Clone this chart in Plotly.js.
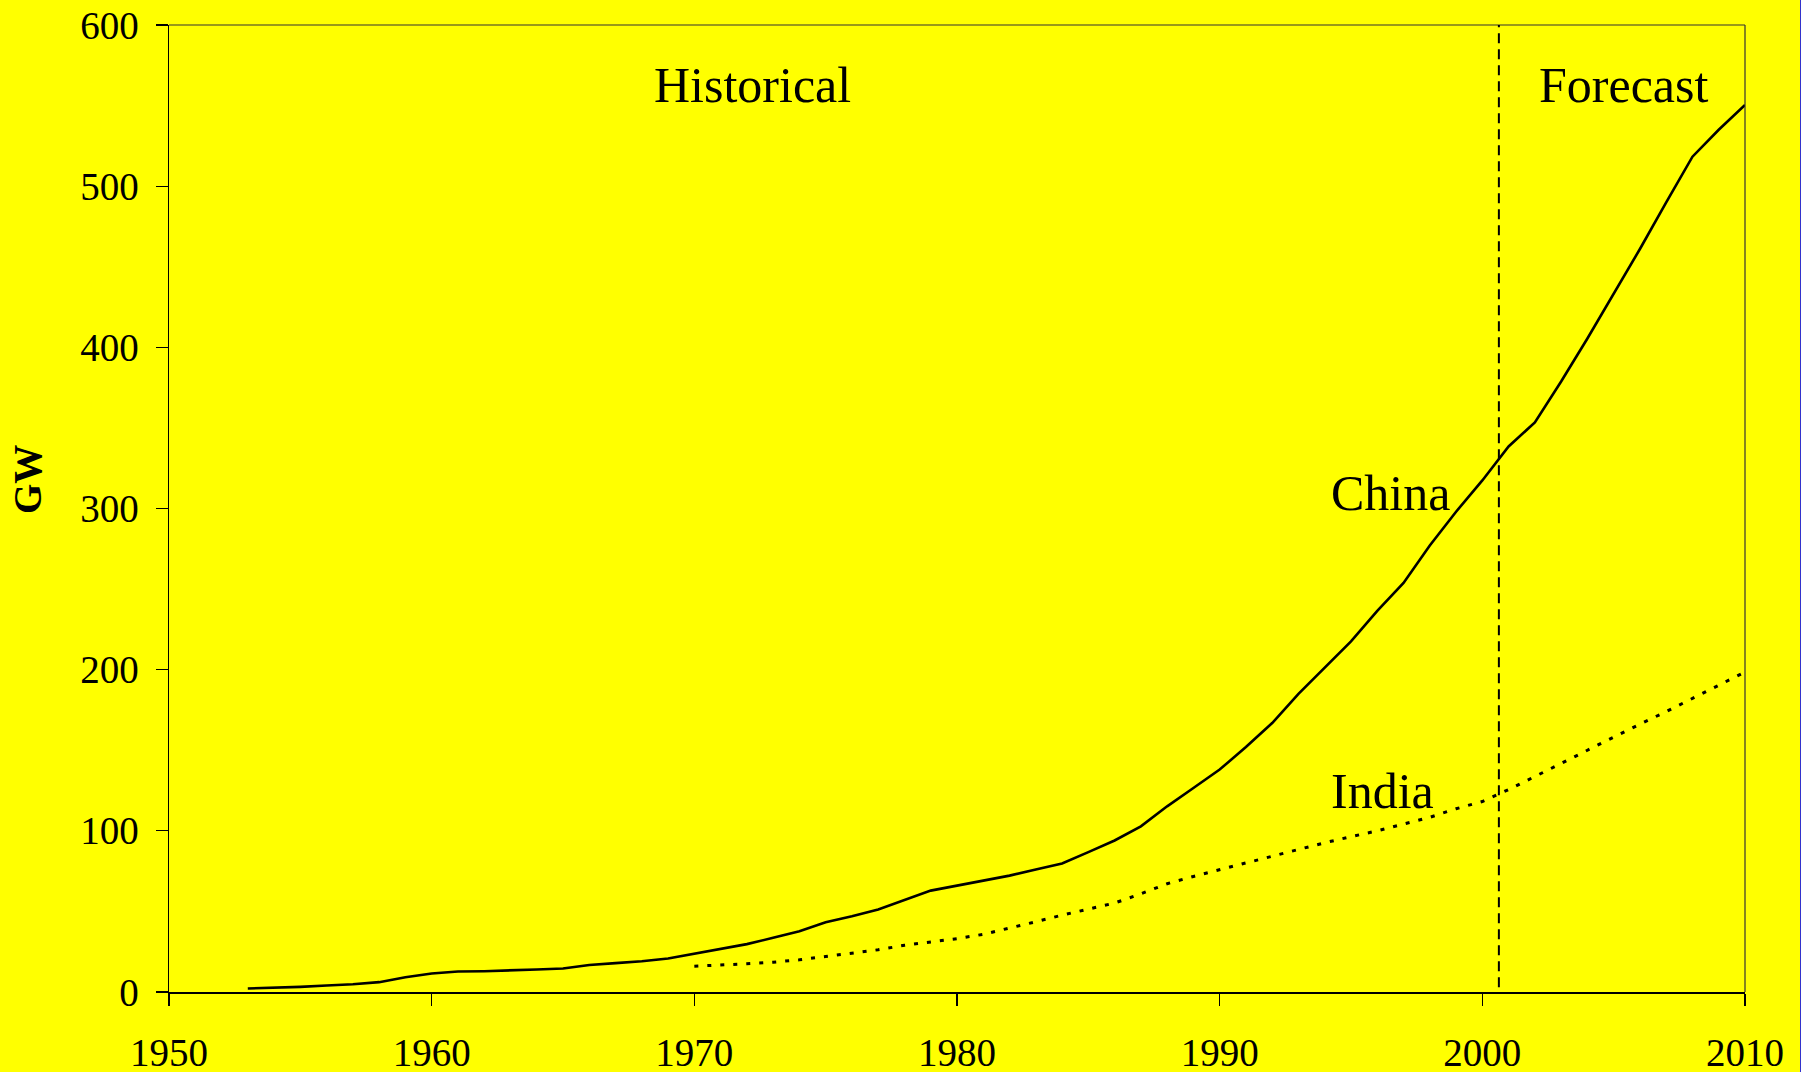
<!DOCTYPE html>
<html>
<head>
<meta charset="utf-8">
<script src="https://cdn.plot.ly/plotly-3.0.1.min.js"></script>
<style>
  html, body { margin: 0; padding: 0; background: #FFFF00; }
  #wrap { width: 1800px; height: 1072px; border-right: 1px solid #3333cc; }
  #chart { width: 1800px; height: 1072px; }
</style>
</head>
<body>
<div id="wrap"><div id="chart"></div></div>
<script>
// ---- Data ----
const chinaYears = [1953,1954,1955,1956,1957,1958,1959,1960,1961,1962,1963,1964,1965,1966,1967,1968,1969,
  1970,1971,1972,1973,1974,1975,1976,1977,1978,1979,1980,1981,1982,1983,1984,1985,1986,1987,1988,1989,
  1990,1991,1992,1993,1994,1995,1996,1997,1998,1999,2000,2001,2002,2003,2004,2005,2006,2007,2008,2009,2010];
const chinaGW = [2.2,2.6,3.2,4.0,4.8,6.1,9.2,11.5,12.7,12.9,13.3,14.0,14.6,16.8,17.9,19.1,20.8,
  23.8,26.4,29.7,33.6,37.7,43.3,47.0,51.2,57.0,62.9,66.0,69.1,72.2,76.0,79.7,86.8,94.0,102.8,115.2,126.6,
  138.0,152.0,166.9,185.0,201.5,217.6,236.5,253.8,277.0,298.0,317.4,338.5,353.4,378.8,405.5,433.0,461.0,490.0,518.3,535.0,550.4];

const indiaYears = [1970,1971,1972,1973,1974,1975,1976,1977,1978,1979,1980,1981,1982,1983,1984,1985,1986,1987,1988,1989,
  1990,1991,1992,1993,1994,1995,1996,1997,1998,1999,2000,2001,2002,2003,2004,2005,2006,2007,2008,2009,2010];
const indiaGW = [16.0,16.6,17.5,18.5,20.0,22.0,24.0,26.2,29.0,31.2,33.1,35.8,39.5,43.6,47.7,51.6,55.2,60.9,67.2,71.7,
  75.9,80.0,84.2,88.4,92.6,96.4,100.0,104.2,108.4,113.7,118.2,125.6,133.5,141.8,150.0,158.2,166.2,174.0,182.3,190.4,198.5];

const xTicks = [1950,1960,1970,1980,1990,2000,2010];
const yTicks = [0,100,200,300,400,500,600];
const forecastStart = 2000.63;

// ---- Styling ----
const FONT = '"Liberation Serif", "Times New Roman", Times, serif';

const traces = [
  { x: chinaYears, y: chinaGW, type: 'scatter', mode: 'lines', name: 'China',
    line: { color: '#000000', width: 2.6 }, hoverinfo: 'x+y' },
  { x: indiaYears, y: indiaGW, type: 'scatter', mode: 'lines', name: 'India',
    line: { color: '#000000', width: 3, dash: '4px,9px' }, hoverinfo: 'x+y' }
];

const layout = {
  width: 1800, height: 1072,
  paper_bgcolor: '#FFFF00', plot_bgcolor: '#FFFF00',
  margin: { l: 169, r: 55, t: 25, b: 80 },
  showlegend: false,
  font: { family: FONT, color: '#000000', size: 39 },
  xaxis: {
    range: [1950, 2010], tickmode: 'array', tickvals: xTicks, ticktext: xTicks.map(String),
    showgrid: false, zeroline: false, showline: true, linecolor: '#000000', linewidth: 1.5,
    ticks: 'outside', ticklen: 12, tickwidth: 1.3, tickcolor: '#000000',
    tickfont: { family: FONT, size: 39, color: '#000000' },
    ticklabelstandoff: 14, automargin: false
  },
  yaxis: {
    range: [0, 600], tickmode: 'array', tickvals: yTicks, ticktext: yTicks.map(String),
    showgrid: false, zeroline: false, showline: true, linecolor: '#000000', linewidth: 1.5,
    ticks: 'outside', ticklen: 12, tickwidth: 1.3, tickcolor: '#000000',
    tickfont: { family: FONT, size: 39, color: '#000000' },
    ticklabelstandoff: 9, automargin: false
  },
  shapes: [
    { type: 'line', xref: 'paper', yref: 'paper', x0: 0, x1: 1, y0: 1, y1: 1,
      line: { color: '#333333', width: 1.2 } },
    { type: 'line', xref: 'paper', yref: 'paper', x0: 1, x1: 1, y0: 0, y1: 1,
      line: { color: '#333333', width: 1.2 } },
    { type: 'line', xref: 'x', yref: 'paper', x0: forecastStart, x1: forecastStart, y0: 0.005, y1: 1,
      line: { color: '#000000', width: 2, dash: '10px,6px' } }
  ],
  annotations: [
    { text: 'Historical', xref: 'x', yref: 'y', x: 1972.2, y: 562.5, showarrow: false,
      xanchor: 'center', yanchor: 'middle', font: { family: FONT, size: 50, color: '#000' } },
    { text: 'Forecast', xref: 'x', yref: 'y', x: 2005.37, y: 562.5, showarrow: false,
      xanchor: 'center', yanchor: 'middle', font: { family: FONT, size: 50, color: '#000' } },
    { text: 'China', xref: 'x', yref: 'y', x: 1994.18, y: 309.5, showarrow: false,
      xanchor: 'left', yanchor: 'middle', font: { family: FONT, size: 50, color: '#000' } },
    { text: 'India', xref: 'x', yref: 'y', x: 1994.18, y: 124.5, showarrow: false,
      xanchor: 'left', yanchor: 'middle', font: { family: FONT, size: 50, color: '#000' } },
    { text: '<b>GW</b>', xref: 'paper', yref: 'paper', x: -0.0897, y: 0.53, showarrow: false,
      textangle: -90, xanchor: 'center', yanchor: 'middle',
      font: { family: FONT, size: 39, color: '#000' } }
  ]
};

Plotly.newPlot('chart', traces, layout, { displayModeBar: false, staticPlot: true });
</script>
</body>
</html>
